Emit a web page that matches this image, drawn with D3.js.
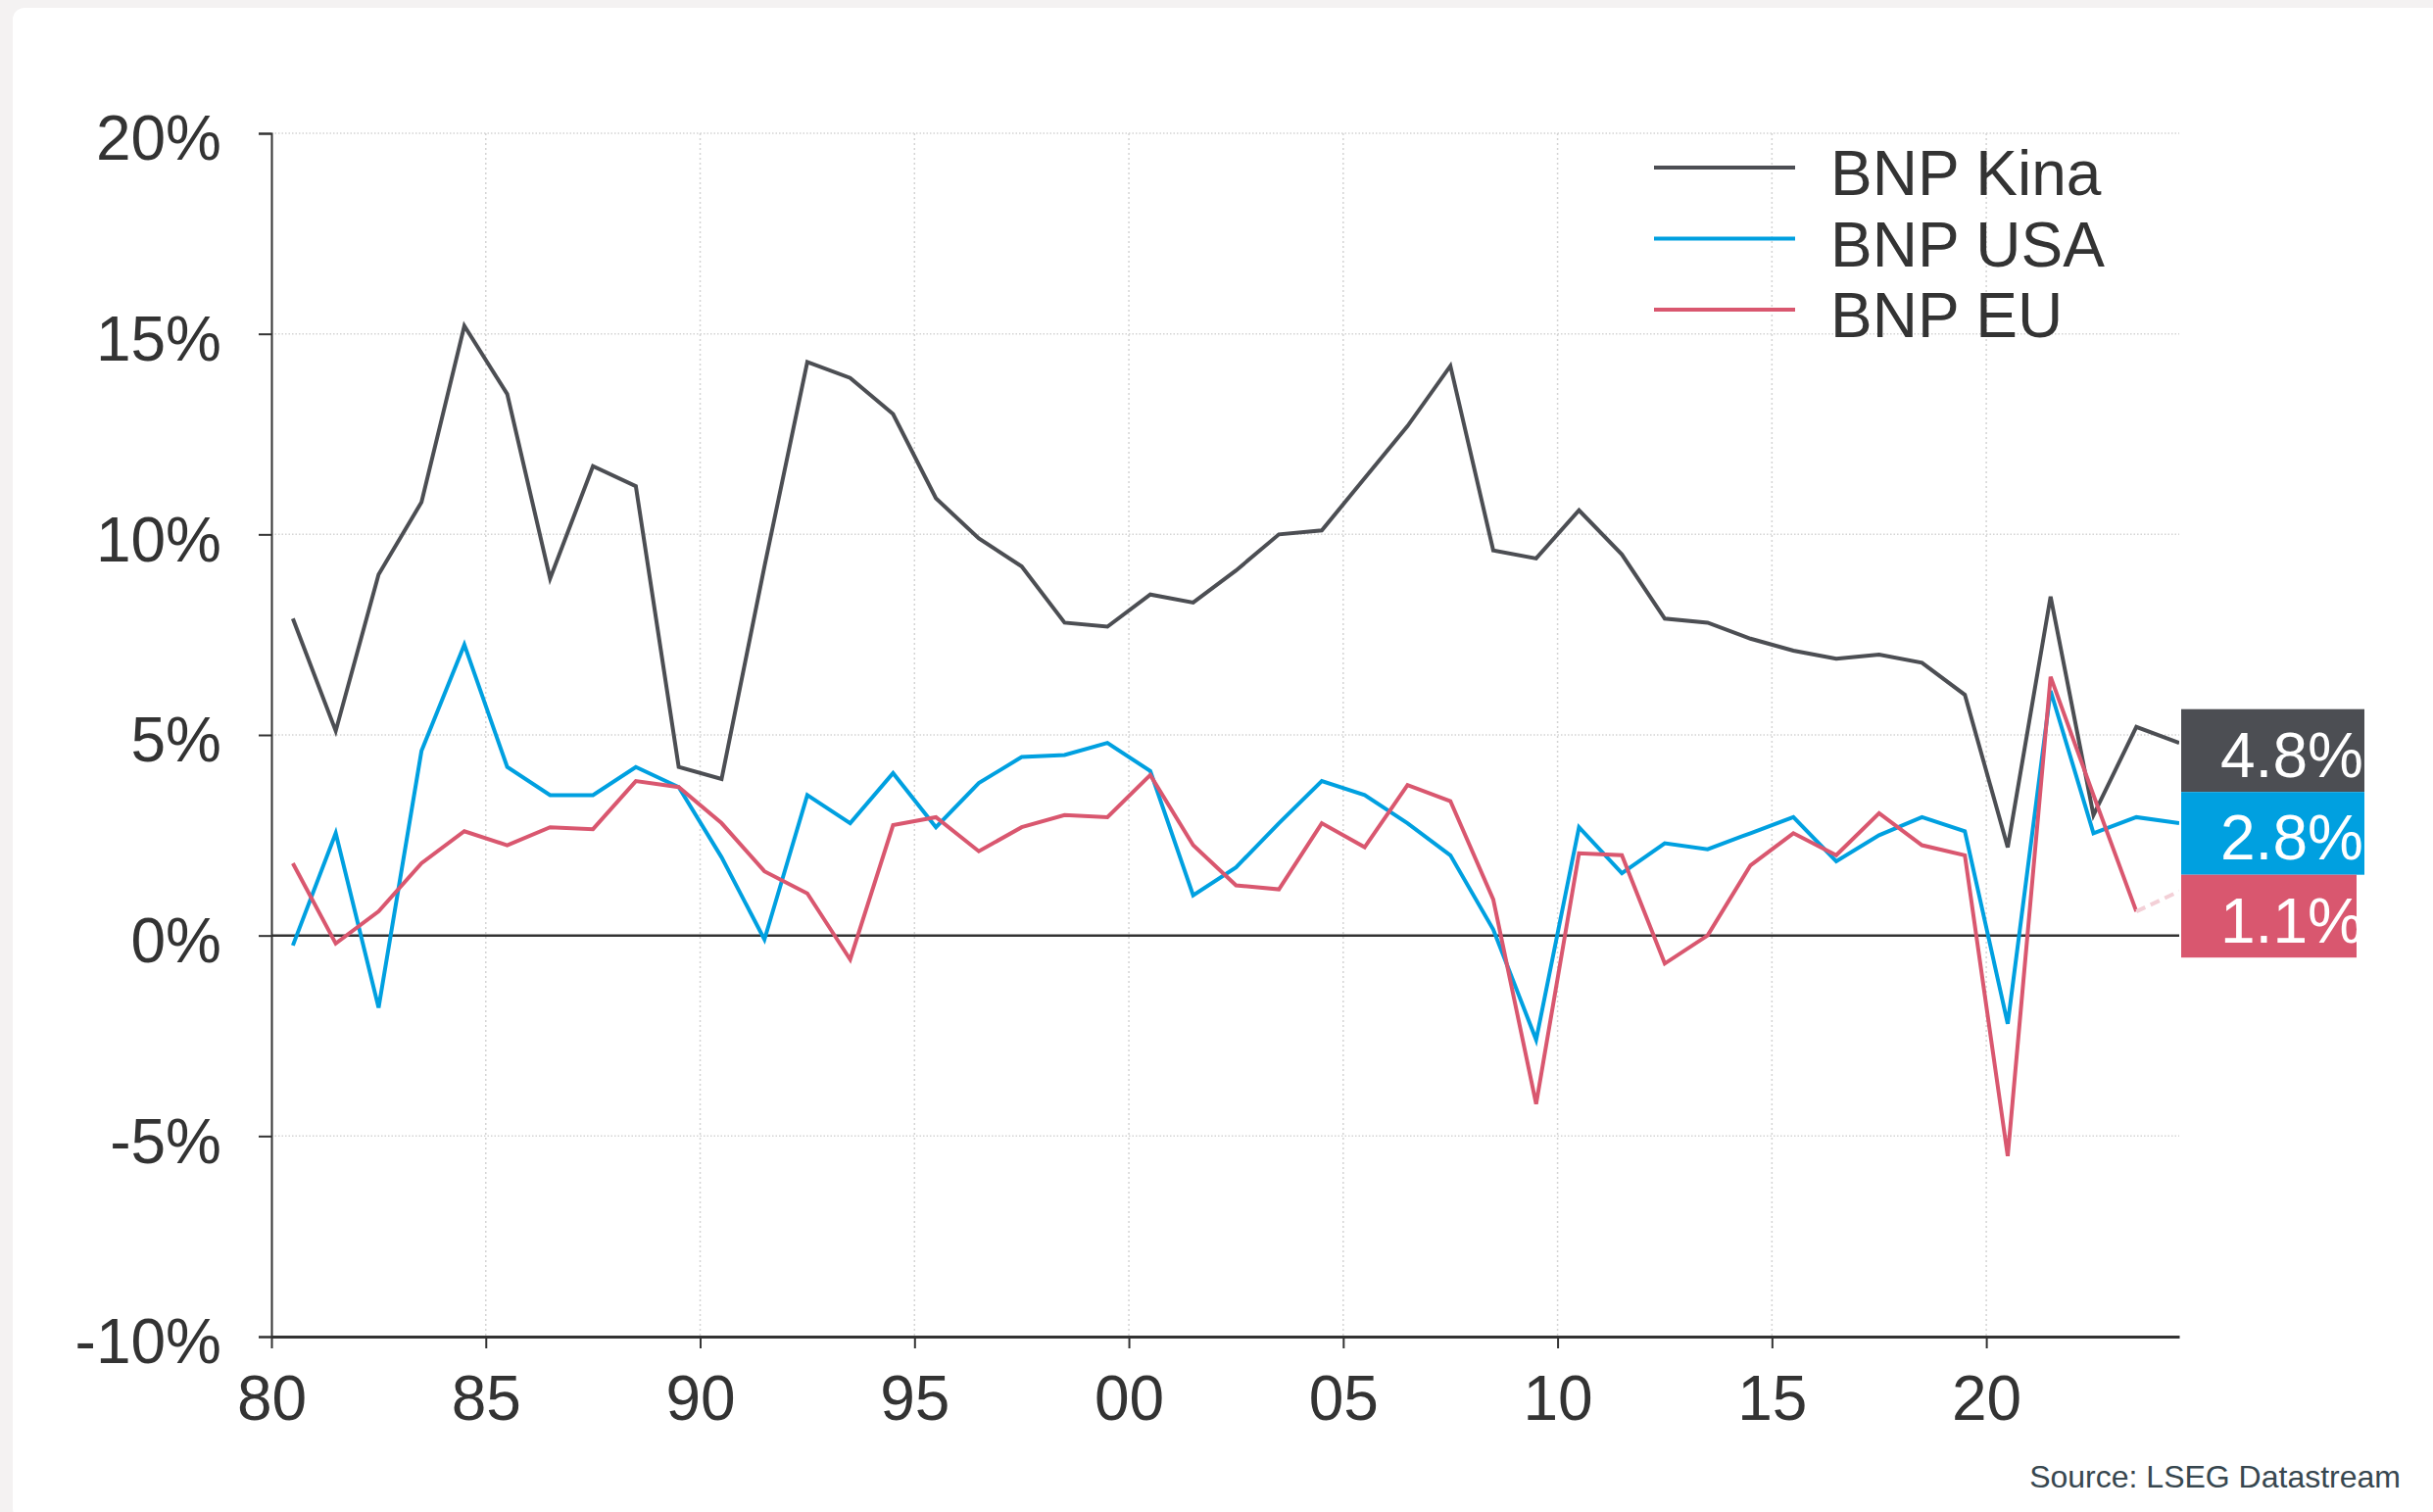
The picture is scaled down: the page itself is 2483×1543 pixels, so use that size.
<!DOCTYPE html>
<html>
<head>
<meta charset="utf-8">
<script src="https://cdn.jsdelivr.net/npm/d3@7"></script>
<style>
  html, body { margin: 0; padding: 0; background: #f4f2f2; }
  svg { display: block; }
  text { font-family: "Liberation Sans", Arial, Helvetica, sans-serif; }
</style>
</head>
<body>
<div id="viz"></div>
<script>
// annual GDP growth, % (plotted at mid-year)
var years = [1980, 1981, 1982, 1983, 1984, 1985, 1986, 1987, 1988, 1989,
             1990, 1991, 1992, 1993, 1994, 1995, 1996, 1997, 1998, 1999,
             2000, 2001, 2002, 2003, 2004, 2005, 2006, 2007, 2008, 2009,
             2010, 2011, 2012, 2013, 2014, 2015, 2016, 2017, 2018, 2019,
             2020, 2021, 2022, 2023, 2024];

var kina = [7.9, 5.1, 9.0, 10.8, 15.2, 13.5, 8.9, 11.7, 11.2, 4.2,
            3.9, 9.2, 14.3, 13.9, 13.0, 10.9, 9.9, 9.2, 7.8, 7.7,
            8.5, 8.3, 9.1, 10.0, 10.1, 11.4, 12.7, 14.2, 9.6, 9.4,
            10.6, 9.5, 7.9, 7.8, 7.4, 7.1, 6.9, 7.0, 6.8, 6.0,
            2.2, 8.45, 3.0, 5.2, 4.8];

var usa = [-0.25, 2.55, -1.8, 4.6, 7.25, 4.2, 3.5, 3.5, 4.2, 3.7,
           1.95, -0.1, 3.5, 2.8, 4.05, 2.7, 3.8, 4.45, 4.5, 4.8,
           4.1, 1.0, 1.7, 2.8, 3.85, 3.5, 2.8, 2.0, 0.15, -2.6,
           2.7, 1.55, 2.3, 2.15, 2.55, 2.95, 1.85, 2.5, 2.95, 2.6,
           -2.2, 6.1, 2.55, 2.95, 2.8];

var eu = [1.8, -0.2, 0.6, 1.8, 2.6, 2.25, 2.7, 2.65, 3.85, 3.7,
          2.8, 1.6, 1.05, -0.6, 2.75, 2.95, 2.1, 2.7, 3.0, 2.95,
          4.0, 2.25, 1.25, 1.15, 2.8, 2.2, 3.75, 3.35, 0.9, -4.2,
          2.05, 2.0, -0.7, 0.0, 1.75, 2.55, 2.0, 3.05, 2.25, 2.0,
          -5.5, 6.45, 3.5, 0.6, 1.1];

var seriesNames = ["BNP Kina", "BNP USA", "BNP EU"];
var yTicks = [-10, -5, 0, 5, 10, 15, 20];
var xTicks = [1980, 1985, 1990, 1995, 2000, 2005, 2010, 2015, 2020];

var W = 2483, H = 1543;
var colors = ["#4c4e53", "#00a0e0", "#d9576f"];

var series = [
    {name: seriesNames[0], values: kina, color: colors[0], dashedLast: false},
    {name: seriesNames[1], values: usa, color: colors[1], dashedLast: false},
    {name: seriesNames[2], values: eu, color: colors[2], dashedLast: true}
];

var x = d3.scaleLinear().domain([1980, 2024.5]).range([277, 2224]);
var y = d3.scaleLinear().domain([-10, 20]).range([1364, 136]);

var svg = d3.select("#viz")
    .append("svg")
    .attr("width", W)
    .attr("height", H);

// white card
svg.append("rect")
    .attr("x", 13).attr("y", 8)
    .attr("width", W).attr("height", H)
    .attr("rx", 12)
    .style("fill", "white");

svg.append("clipPath").attr("id", "plotclip")
  .append("rect")
    .attr("x", x.range()[0]).attr("y", 0)
    .attr("width", x.range()[1] - x.range()[0]).attr("height", H);

// grid
var grid = svg.append("g");
grid.selectAll("line.h")
    .data(yTicks.filter(function(d) { return d != 0 && d != -10; }))
    .enter().append("line")
    .attr("x1", x.range()[0]).attr("x2", x.range()[1])
    .attr("y1", function(d) { return y(d); })
    .attr("y2", function(d) { return y(d); })
    .style("stroke", "#d4d4d4")
    .style("stroke-width", 1.5)
    .style("stroke-dasharray", "1.5,2");

grid.selectAll("line.v")
    .data(xTicks.slice(1))
    .enter().append("line")
    .attr("x1", function(d) { return x(d); })
    .attr("x2", function(d) { return x(d); })
    .attr("y1", y(20)).attr("y2", y(-10))
    .style("stroke", "#d4d4d4")
    .style("stroke-width", 1.5)
    .style("stroke-dasharray", "2,3");

// zero line
svg.append("line")
    .attr("x1", x.range()[0]).attr("x2", x.range()[1])
    .attr("y1", y(0)).attr("y2", y(0))
    .style("stroke", "#333")
    .style("stroke-width", 2.5);

// y axis
var yAxis = d3.axisLeft(y)
    .tickValues(yTicks)
    .tickSize(13)
    .tickPadding(38)
    .tickFormat(function(d) { return d + "%"; });

var gy = svg.append("g")
    .attr("transform", "translate(" + x.range()[0] + ",0)")
    .call(yAxis);
gy.select(".domain").style("stroke", "#333").style("stroke-width", 2);
gy.selectAll(".tick line").style("stroke", "#333").style("stroke-width", 2);
gy.selectAll(".tick text")
    .style("font-size", "64px")
    .style("fill", "#333")
    .attr("dy", "0.42em");

// x axis
var xAxis = d3.axisBottom(x)
    .tickValues(xTicks)
    .tickSize(12)
    .tickSizeOuter(0)
    .tickPadding(27)
    .tickFormat(function(d) { return String(d % 100).padStart(2, "0"); });

var gx = svg.append("g")
    .attr("transform", "translate(0," + y(-10) + ")")
    .call(xAxis);
gx.select(".domain").style("stroke", "#333").style("stroke-width", 3);
gx.selectAll(".tick line").style("stroke", "#333").style("stroke-width", 2);
gx.selectAll(".tick text")
    .style("font-size", "64px")
    .style("fill", "#333")
    .attr("dy", "0.72em");

// lines
var line = d3.line()
    .x(function(d) { return x(d.year + 0.5); })
    .y(function(d) { return y(d.value); });

var lines = svg.append("g").attr("clip-path", "url(#plotclip)");

series.forEach(function(s) {
    var pts = years.map(function(yr, i) { return {year: yr, value: s.values[i]}; });
    var main = s.dashedLast ? pts.slice(0, pts.length - 1) : pts;
    lines.append("path")
        .datum(main)
        .attr("d", line)
        .style("fill", "none")
        .style("stroke", s.color)
        .style("stroke-width", 4)
        .style("stroke-linejoin", "miter");
    if (s.dashedLast) {
        lines.append("path")
            .datum(pts.slice(pts.length - 2))
            .attr("d", line)
            .style("fill", "none")
            .style("stroke", "#f3d0d7")
            .style("stroke-width", 4)
            .style("stroke-dasharray", "10,6");
    }
});

// legend
var legend = svg.append("g");
var leg = legend.selectAll("g")
    .data(series)
    .enter().append("g")
    .attr("transform", function(d, i) { return "translate(1688," + (171 + i * 72.5) + ")"; });
leg.append("line")
    .attr("x1", 0).attr("x2", 144)
    .style("stroke", function(d) { return d.color; })
    .style("stroke-width", 4);
leg.append("text")
    .attr("x", 180)
    .attr("y", 28)
    .style("font-size", "64px")
    .style("fill", "#333")
    .text(function(d) { return d.name; });

// end-value labels, stacked so they don't overlap
var boxH = 84.5;
var boxW = [187, 187, 179];  // last box is narrower in the original and clips its text
var prevBottom = -Infinity;
series.forEach(function(s, i) {
    var v = s.values[s.values.length - 1];
    var top = Math.max(y(v) - 34.5, prevBottom);
    prevBottom = top + boxH;
    var g = svg.append("g").attr("transform", "translate(2226," + top + ")");
    g.append("clipPath").attr("id", "lab" + i)
      .append("rect").attr("width", boxW[i]).attr("height", boxH);
    g.append("rect")
        .attr("width", boxW[i]).attr("height", boxH)
        .style("fill", s.color);
    g.append("text")
        .attr("clip-path", "url(#lab" + i + ")")
        .attr("x", 40).attr("y", 69)
        .style("font-size", "64px")
        .style("fill", "white")
        .text(v.toFixed(1) + "%");
});

// source
svg.append("text")
    .attr("x", 2450).attr("y", 1518)
    .attr("text-anchor", "end")
    .style("font-size", "32px")
    .style("fill", "#37474f")
    .text("Source: LSEG Datastream");
</script>
</body>
</html>
